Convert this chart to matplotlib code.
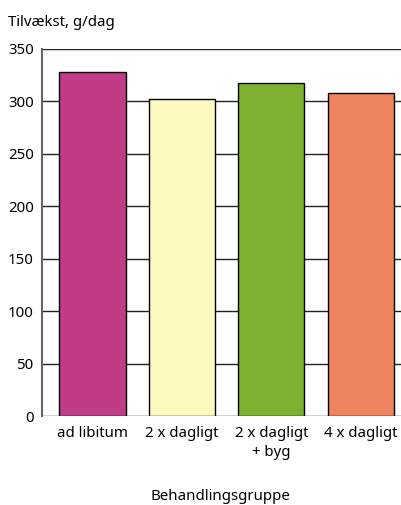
import matplotlib
matplotlib.use("Agg")
import matplotlib.pyplot as plt

groups = ["ad libitum", "2 x dagligt", "2 x dagligt\n+ byg", "4 x dagligt"]
growth = [328, 302, 318, 308]
colors = ["#C13C87", "#FEF9BE", "#7DB12F", "#EF845E"]
yticks = [0, 50, 100, 150, 200, 250, 300, 350]

plt.rcParams["font.family"] = ["Noto Sans", "DejaVu Sans"]

fig = plt.figure(figsize=(4.01, 5.05), dpi=100)
ax = fig.add_axes([42 / 401, 1 - 416 / 505, (401 - 42) / 401, (416 - 49) / 505])

x = range(len(groups))
ax.bar(x, growth, width=0.74, color=colors, edgecolor="black", linewidth=1.0, zorder=3)

ax.set_ylim(0, 350)
ax.set_xlim(-0.565, 3.45)
ax.set_yticks(yticks)
ax.yaxis.grid(True, color="#222222", linewidth=1.0, zorder=0)
ax.set_axisbelow(True)
ax.set_xticks(list(x))
ax.set_xticklabels(groups, fontsize=10.8, linespacing=1.35)
ax.tick_params(axis="x", length=0, pad=7)
ax.tick_params(axis="y", length=0, pad=6, labelsize=10.8)

for side in ["top", "right", "bottom"]:
    ax.spines[side].set_visible(False)
ax.spines["left"].set_color("#666666")
ax.spines["left"].set_linewidth(1.5)

fig.text(8 / 401, 1 - 22 / 505, "Tilvækst, g/dag", fontsize=10.8, va="center", ha="left")
fig.text(220 / 401, 1 - 497 / 505, "Behandlingsgruppe", fontsize=10.8, va="center", ha="center")

fig.savefig("out.png", dpi=100)
